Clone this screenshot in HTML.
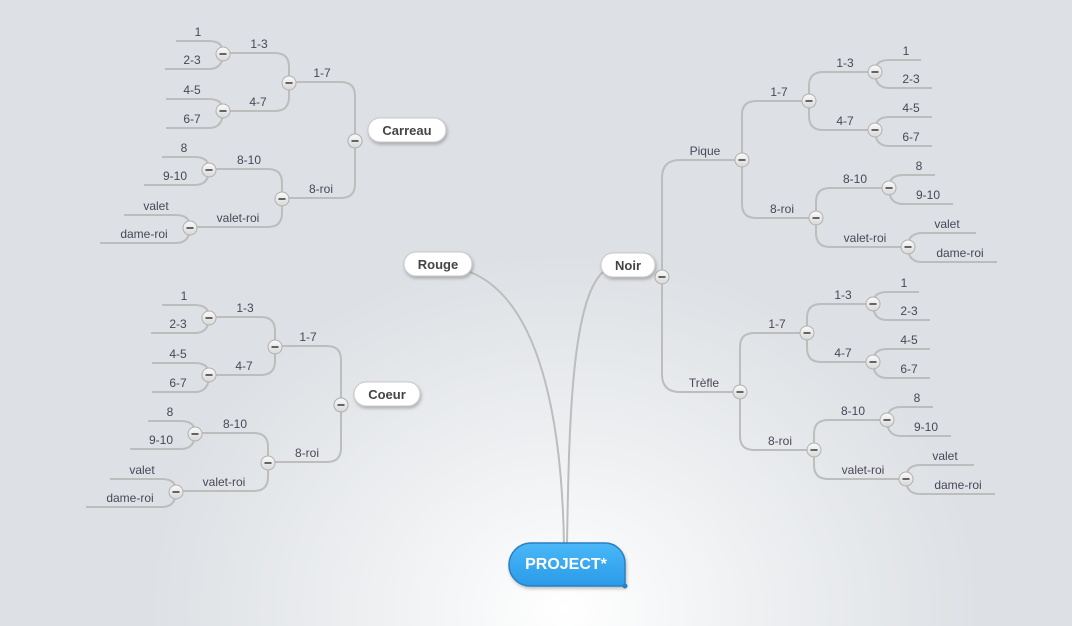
<!DOCTYPE html>
<html><head><meta charset="utf-8"><style>
html,body{margin:0;padding:0}
body{width:1072px;height:626px;overflow:hidden;background:radial-gradient(ellipse 420px 360px at 565px 610px,#ffffff 0%,#eef0f2 45%,#dde0e4 100%);font-family:"Liberation Sans",sans-serif}
svg{position:absolute;left:0;top:0}
.l{fill:none;stroke:#bdbdbd;stroke-width:2}
.t{font-size:12px;fill:#4a4658;text-anchor:middle}
.n{font-size:13px;font-weight:bold;fill:#444;text-anchor:middle}
</style></head><body>
<svg width="1072" height="626" viewBox="0 0 1072 626">
<defs>
<linearGradient id="cg" x1="0" y1="0" x2="0" y2="1"><stop offset="0" stop-color="#fafafa"/><stop offset="1" stop-color="#d8d8d8"/></linearGradient>
<linearGradient id="bg" x1="0" y1="0" x2="0" y2="1"><stop offset="0" stop-color="#4ab8f8"/><stop offset="1" stop-color="#2a9ae8"/></linearGradient>
<filter id="sh" x="-20%" y="-30%" width="140%" height="170%"><feDropShadow dx="1" dy="2" stdDeviation="1.5" flood-color="#000" flood-opacity="0.25"/></filter>
<g id="c"><circle r="7" fill="url(#cg)" stroke="#b0b0b0" stroke-width="1"/><line x1="-3.5" y1="0" x2="3.5" y2="0" stroke="#555" stroke-width="1.8"/></g>
<g id="left">
<path class="l" d="M290,82 H341 Q355,82 355,96 V141"/>
<path class="l" d="M282,198 H341 Q355,198 355,184 V141"/>
<path class="l" d="M223,53 H275 Q289,53 289,67 V82"/>
<path class="l" d="M223,111 H275 Q289,111 289,97 V82"/>
<path class="l" d="M176,41 H209 Q223,41 223,53"/>
<path class="l" d="M165,69 H209 Q223,69 223,53"/>
<path class="l" d="M166,99 H209 Q223,99 223,111"/>
<path class="l" d="M166,128 H209 Q223,128 223,111"/>
<path class="l" d="M209,169 H268 Q282,169 282,183 V198"/>
<path class="l" d="M190,227 H268 Q282,227 282,213 V198"/>
<path class="l" d="M162,157 H195 Q209,157 209,169"/>
<path class="l" d="M144,185 H195 Q209,185 209,169"/>
<path class="l" d="M124,215 H176 Q190,215 190,227"/>
<path class="l" d="M100,243 H176 Q190,243 190,227"/>
<text class="t" x="322" y="77">1-7</text>
<text class="t" x="321" y="193">8-roi</text>
<text class="t" x="259" y="48">1-3</text>
<text class="t" x="258" y="106">4-7</text>
<text class="t" x="198" y="36">1</text>
<text class="t" x="192" y="64">2-3</text>
<text class="t" x="192" y="94">4-5</text>
<text class="t" x="192" y="123">6-7</text>
<text class="t" x="249" y="164">8-10</text>
<text class="t" x="238" y="222">valet-roi</text>
<text class="t" x="184" y="152">8</text>
<text class="t" x="175" y="180">9-10</text>
<text class="t" x="156" y="210">valet</text>
<text class="t" x="144" y="238">dame-roi</text>
<use href="#c" x="289" y="83"/><use href="#c" x="223" y="54"/><use href="#c" x="223" y="111"/>
<use href="#c" x="282" y="199"/><use href="#c" x="209" y="170"/><use href="#c" x="190" y="228"/>
<use href="#c" x="355" y="141"/>
</g>
<g id="right">
<path class="l" d="M742,160 V115 Q742,101 756,101 H809"/>
<path class="l" d="M742,160 V204 Q742,218 756,218 H816"/>
<path class="l" d="M809,101 V86 Q809,72 823,72 H875"/>
<path class="l" d="M809,101 V116 Q809,130 823,130 H875"/>
<path class="l" d="M875,72 Q875,60 889,60 H921"/>
<path class="l" d="M875,72 Q875,88 889,88 H932"/>
<path class="l" d="M875,130 Q875,117 889,117 H932"/>
<path class="l" d="M875,130 Q875,146 889,146 H932"/>
<path class="l" d="M816,218 V202 Q816,188 830,188 H889"/>
<path class="l" d="M816,218 V233 Q816,247 830,247 H908"/>
<path class="l" d="M889,188 Q889,175 903,175 H935"/>
<path class="l" d="M889,188 Q889,204 903,204 H953"/>
<path class="l" d="M908,247 Q908,233 922,233 H976"/>
<path class="l" d="M908,247 Q908,262 922,262 H997"/>
<text class="t" x="779" y="96">1-7</text>
<text class="t" x="782" y="213">8-roi</text>
<text class="t" x="845" y="67">1-3</text>
<text class="t" x="845" y="125">4-7</text>
<text class="t" x="906" y="55">1</text>
<text class="t" x="911" y="83">2-3</text>
<text class="t" x="911" y="112">4-5</text>
<text class="t" x="911" y="141">6-7</text>
<text class="t" x="855" y="183">8-10</text>
<text class="t" x="865" y="242">valet-roi</text>
<text class="t" x="919" y="170">8</text>
<text class="t" x="928" y="199">9-10</text>
<text class="t" x="947" y="228">valet</text>
<text class="t" x="960" y="257">dame-roi</text>
<use href="#c" x="809" y="101"/><use href="#c" x="875" y="72"/><use href="#c" x="875" y="130"/>
<use href="#c" x="816" y="218"/><use href="#c" x="889" y="188"/><use href="#c" x="908" y="247"/>
<use href="#c" x="742" y="160"/>
</g>
</defs>

<path class="l" d="M564,545 C562,420 540,300 470,272"/>
<path class="l" d="M567,545 C569,420 572,300 603,272"/>
<path class="l" d="M662,277 V178 Q662,160 680,160 H742"/>
<path class="l" d="M662,277 V374 Q662,392 680,392 H740"/>
<text class="t" x="705" y="155">Pique</text>
<text class="t" x="704" y="387">Trèfle</text>

<use href="#left"/>
<g transform="translate(-14,264)"><use href="#left"/></g>
<use href="#right"/>
<g transform="translate(-2,232)"><use href="#right"/></g>
<use href="#c" x="662" y="277"/>

<g filter="url(#sh)">
<rect x="368" y="118" width="78" height="24" rx="12" fill="#fff" stroke="#c8c8c8"/>
<rect x="354" y="382" width="66" height="24" rx="12" fill="#fff" stroke="#c8c8c8"/>
<rect x="404" y="252" width="68" height="24" rx="12" fill="#fff" stroke="#c8c8c8"/>
<rect x="601" y="253" width="54" height="24" rx="12" fill="#fff" stroke="#c8c8c8"/>
<path d="M530,543 H605 A20,20 0 0 1 625,563 V586 H530 A21,21 0 0 1 509,565 A22,22 0 0 1 530,543 Z" fill="url(#bg)" stroke="#2a7fc0" stroke-width="1.5"/>
</g>
<circle cx="625" cy="586" r="2.5" fill="#2a7fc0"/>
<use href="#c" x="355" y="141"/>
<use href="#c" x="341" y="405"/>
<text class="n" x="407" y="135">Carreau</text>
<text class="n" x="387" y="399">Coeur</text>
<text class="n" x="438" y="269">Rouge</text>
<text class="n" x="628" y="270">Noir</text>
<text x="566" y="569" font-size="16" font-weight="bold" fill="#fff" text-anchor="middle">PROJECT*</text>
</svg>
</body></html>
